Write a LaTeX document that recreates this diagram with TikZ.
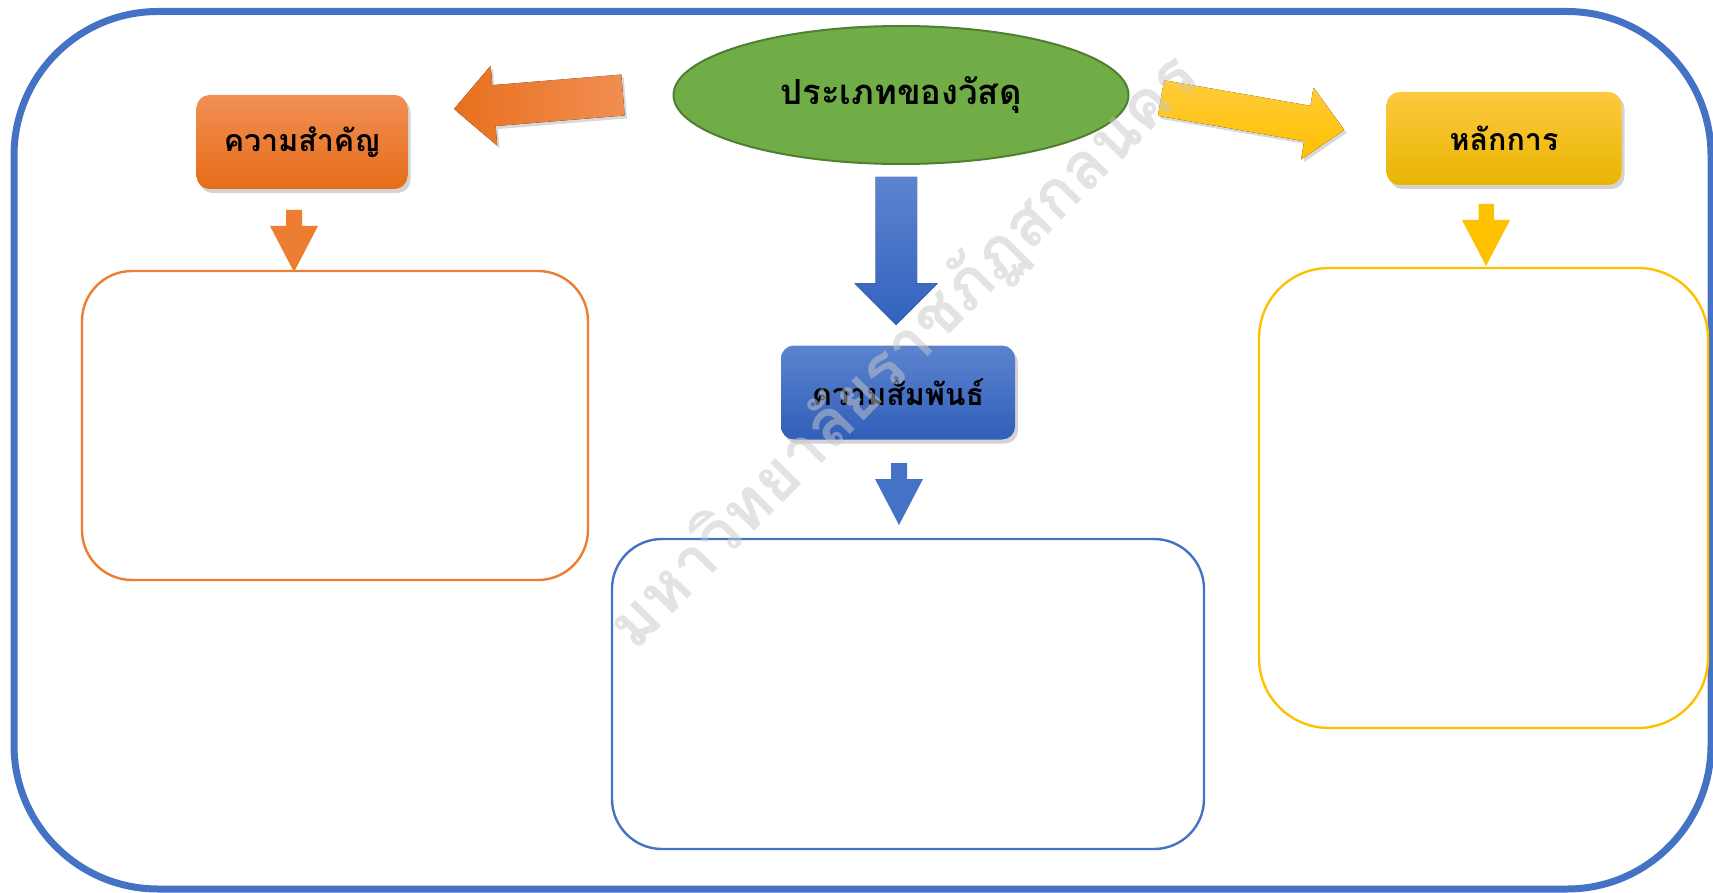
\documentclass[tikz,border=0pt]{standalone}
\usepackage{fontspec}
\newfontfamily\thai[Script=Thai]{Loma}
\usetikzlibrary{shadows,shapes.geometric}
\definecolor{frameblue}{HTML}{4472C4}
\definecolor{orangeC}{HTML}{ED7D31}
\definecolor{yellowC}{HTML}{FFC000}
\definecolor{greenF}{HTML}{70AD47}
\definecolor{greenD}{HTML}{507E32}
\definecolor{wmark}{HTML}{C8C8C8}
\tikzset{
  title/.style={rounded corners=6.5pt, minimum height=47pt, inner sep=0pt,
    font=\thai\bfseries\fontsize{15.2}{18}\selectfont, text=black,
    drop shadow={opacity=0.35, shadow xshift=1.5pt, shadow yshift=-2pt}},
  panel/.style={rounded corners=25pt, line width=1.2pt, inner sep=0pt},
  arrshadow/.style={drop shadow={opacity=0.3, shadow xshift=1.2pt, shadow yshift=-1.5pt}}
}
\begin{document}
\begin{tikzpicture}[x=0.5pt,y=-0.5pt]
\useasboundingbox (0,0) rectangle (1713,893);
% outer frame
\draw[frameblue, line width=3.5pt, rounded corners=72pt] (14,11.5) rectangle (1711,889);
% central ellipse
\node[ellipse, draw=greenD, line width=1pt, fill=greenF, minimum width=227.5pt, minimum height=69pt,
      font=\thai\bfseries\fontsize{17.3}{20}\selectfont] (types) at (901,95) {ประเภทของวัสดุ};
% title boxes
\node[title, minimum width=105.5pt, top color={rgb,255:red,241;green,143;blue,85}, bottom color={rgb,255:red,230;green,108;blue,24}] (imp) at (302,142) {ความสำคัญ};
\node[title, minimum width=117pt, top color={rgb,255:red,92;green,131;blue,207}, bottom color={rgb,255:red,48;green,95;blue,185}] (rel) at (898,392.5) {ความสัมพันธ์};
\node[title, minimum width=117.5pt, minimum height=46.5pt, top color={rgb,255:red,255;green,200;blue,64}, bottom color={rgb,255:red,232;green,182;blue,0}] (prin) at (1504,138.5) {หลักการ};
% empty panels
\node[panel, draw=orangeC, minimum width=253pt, minimum height=154.5pt] (impP) at (335,425.5) {};
\node[panel, draw=frameblue, minimum width=296pt, minimum height=155pt] (relP) at (908,694) {};
\node[panel, draw=yellowC, rounded corners=35pt, minimum width=224.5pt, minimum height=230pt] (prinP) at (1483.5,498) {};
% big block arrows
\begin{scope}[shift={(623,95)}, rotate=184.7]
  \fill[arrshadow, left color={rgb,255:red,232;green,112;blue,30}, right color={rgb,255:red,241;green,142;blue,82}]
    (0,-20.5) -- (129.5,-20.5) -- (129.5,-40) -- (169.5,0) -- (129.5,40) -- (129.5,20.5) -- (0,20.5) -- cycle;
\end{scope}
\begin{scope}[shift={(1161,98)}, rotate=-9.9]
  \fill[arrshadow, top color={rgb,255:red,255;green,204;blue,60}, bottom color={rgb,255:red,255;green,192;blue,0}]
    (0,-18) -- (148.5,-18) -- (148.5,-36.5) -- (186,0) -- (148.5,36.5) -- (148.5,18) -- (0,18) -- cycle;
\end{scope}
\fill[top color={rgb,255:red,92;green,132;blue,208}, bottom color={rgb,255:red,50;green,98;blue,190}]
  (875.5,177) -- (917,177) -- (917,283.5) -- (937.5,283.5) -- (896,325) -- (854.5,283.5) -- (875.5,283.5) -- cycle;
% small arrows
\fill[orangeC] (286,210) -- (302,210) -- (302,226) -- (318,226) -- (294,272) -- (270,226) -- (286,226) -- cycle;
\fill[frameblue] (891,463) -- (907,463) -- (907,479) -- (923,479) -- (899,525) -- (875,479) -- (891,479) -- cycle;
\fill[yellowC] (1478.5,204) -- (1494,204) -- (1494,220) -- (1510,220) -- (1486,266) -- (1462,220) -- (1478.5,220) -- cycle;
% watermark (semi-transparent, on top)
\node[text=wmark, text opacity=0.5, rotate=45.3, font=\thai\bfseries\fontsize{32.8}{36}\selectfont, inner sep=0pt] (wm) at (904,352) {มหาวิทยาลัยราชภัฏสกลนคร};
\end{tikzpicture}
\end{document}
